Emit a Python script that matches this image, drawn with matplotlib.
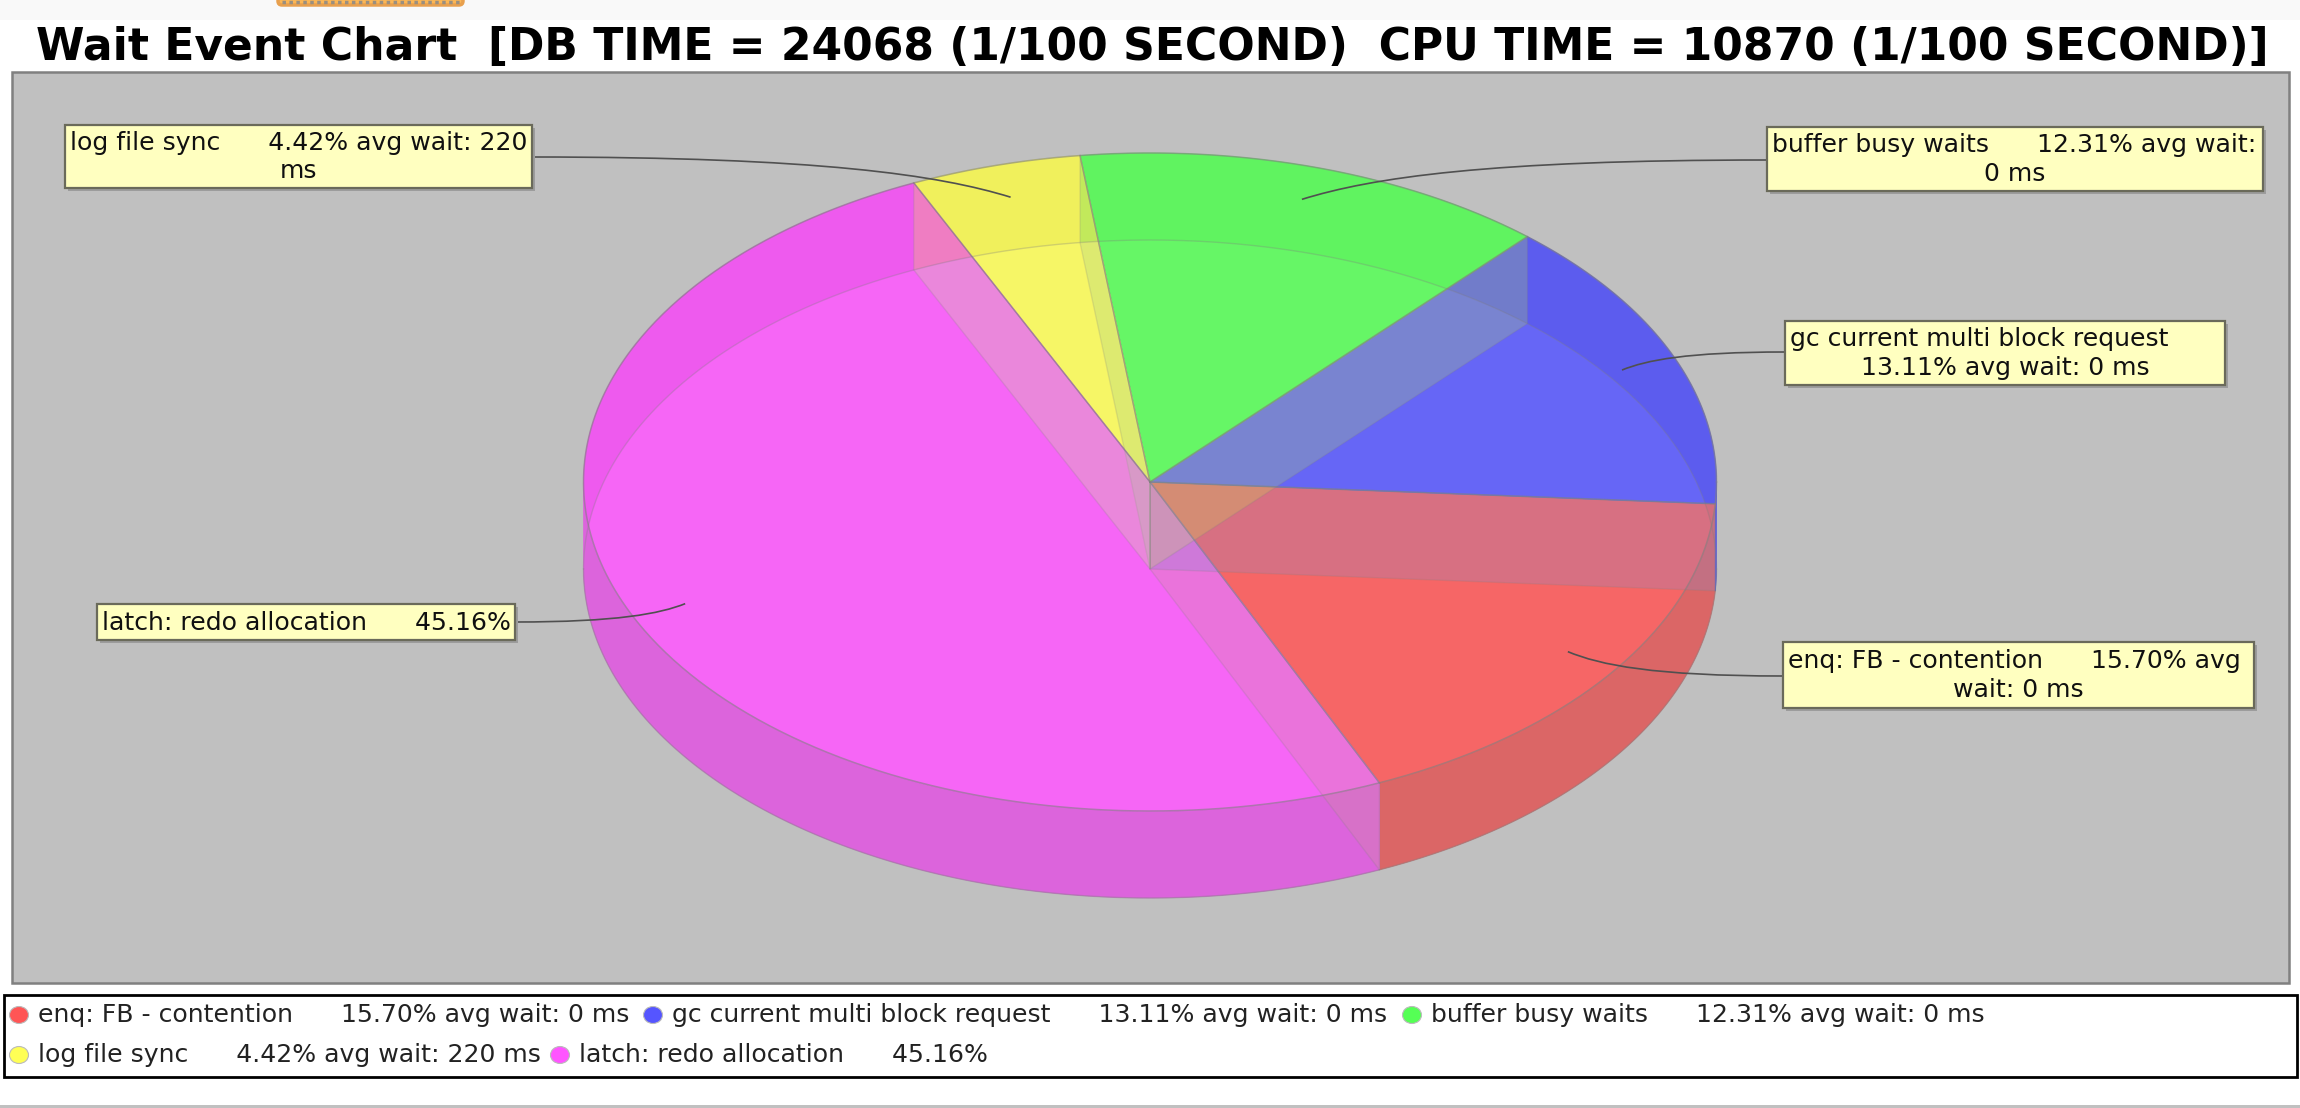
import numpy as np
import matplotlib
matplotlib.use("Agg")
import matplotlib.pyplot as plt
from matplotlib.patches import Polygon, Rectangle, Ellipse, PathPatch, FancyBboxPatch
from matplotlib.path import Path

# ---- wait event data ----
events = ["enq: FB - contention", "gc current multi block request", "buffer busy waits",
          "log file sync", "latch: redo allocation"]
percents = [15.70, 13.11, 12.31, 4.42, 45.16]
wait_notes = ["avg wait: 0 ms", "avg wait: 0 ms", "avg wait: 0 ms", "avg wait: 220 ms", ""]
title = "Wait Event Chart  [DB TIME = 24068 (1/100 SECOND)  CPU TIME = 10870 (1/100 SECOND)]"
callout_lines = [
    ["enq: FB - contention      15.70% avg", "wait: 0 ms"],
    ["gc current multi block request", "13.11% avg wait: 0 ms"],
    ["buffer busy waits      12.31% avg wait:", "0 ms"],
    ["log file sync      4.42% avg wait: 220", "ms"],
    ["latch: redo allocation      45.16%"],
]

# ---- palette ----
base = [(255, 85, 85), (85, 85, 255), (85, 255, 85), (255, 255, 85), (255, 85, 255)]
top_inner = [(246, 102, 102), (102, 102, 246), (102, 246, 102), (246, 246, 102), (246, 102, 246)]
top_band = [(236, 98, 98), (92, 92, 238), (96, 243, 96), (240, 240, 92), (238, 90, 238)]
side_col = [(219, 102, 102), (90, 90, 220), (90, 220, 90), (220, 220, 90), (220, 100, 220)]
# tint of each radial wall: inside the lower disc, then in the band behind it
wall_tint = [((202, 154, 142), .25), ((126, 142, 214), .25), ((202, 255, 60), .20),
             ((150, 202, 142), .25), ((202, 234, 142), .25)]
wall_band_tint = [((202, 154, 142), .25), ((126, 142, 214), .25), ((202, 255, 60), .20),
                  ((60, 215, 90), .25), ((245, 250, 40), .22)]


def rgb(c):
    return tuple(v / 255 for v in c)


W, H = 2300, 1108
fig = plt.figure(figsize=(W / 100, H / 100), dpi=100, facecolor="white")
ax = fig.add_axes([0, 0, 1, 1])
ax.set_xlim(0, W)
ax.set_ylim(H, 0)
ax.axis("off")
plt.rcParams["font.family"] = "DejaVu Sans"
LABEL_SIZE = 18.1

# page furniture
ax.add_patch(Rectangle((0, 0), W, 20, fc="#f9f9f9", ec="none"))
ax.add_patch(FancyBboxPatch((278, -10), 185, 15, boxstyle="round,pad=0,rounding_size=4",
                            fc="#fbb655", ec="#e8a04e", lw=2.5))
ax.plot([282, 460], [1.5, 1.5], color="#9a8f80", lw=2.5, ls=(0, (1, 1)))
ax.add_patch(Rectangle((0, 1105), W, 3, fc="#c0c0c0", ec="none"))

# chart panel and title
ax.add_patch(Rectangle((11.5, 71.5), 2277, 911, fc="#c0c0c0", ec="#808080", lw=1.8))
ax.text(1152, 47.5, title, fontsize=31.7, fontweight="bold", ha="center", va="center", color="black")

# ---- pie geometry ----
cx, cy = 1150, 482
rx, ry = 566.5, 329
depth = 87
start = -3.8
sweeps = np.array(percents) / sum(percents) * 360

# the first slice runs clockwise from the start angle, the rest anticlockwise to meet it
angles = [(start - sweeps[0], start)]
a = start
for s in sweeps[1:]:
    angles.append((a, a + s))
    a += s


def rim(t, dy=0.0, r=1.0):
    t = np.radians(t)
    return np.c_[cx + r * rx * np.cos(t), cy + dy - r * ry * np.sin(t)]


def sector(t0, t1, dy=0.0):
    ts = np.linspace(t0, t1, 200)
    return np.vstack([[cx, cy + dy], rim(ts, dy)])


GREY = (0.5, 0.5, 0.5)

# curved outer side, front half only
for (t0, t1), col in zip(angles, side_col):
    for shift in (0, 360, -360):
        lo, hi = max(t0 + shift, 180), min(t1 + shift, 360)
        if lo < hi:
            ts = np.linspace(lo, hi, 200)
            pts = np.vstack([rim(ts), rim(ts[::-1], depth)])
            ax.add_patch(Polygon(pts, closed=True, fc=rgb(col), ec=rgb(col), lw=.5))
            ax.plot(*rim(ts, depth).T, color=GREY, lw=1, alpha=.4)

# top face: the part behind the lower disc is a shade darker
disc = Ellipse((cx, cy + depth), 2 * rx, 2 * ry, transform=ax.transData)
for (t0, t1), band, inner in zip(angles, top_band, top_inner):
    ax.add_patch(Polygon(sector(t0, t1), closed=True, fc=rgb(band), ec=rgb(band), lw=.6))
    p = Polygon(sector(t0, t1), closed=True, fc=rgb(inner), ec=rgb(inner), lw=.6)
    ax.add_patch(p)
    p.set_clip_path(disc)

# clip region for everything outside the lower disc: page outline with the disc cut out
disc_outline = rim(np.linspace(0, 360, 361), depth)
outside = Path.make_compound_path(
    Path([(0, 0), (W, 0), (W, H), (0, H), (0, 0)], closed=True),
    Path(np.vstack([disc_outline, disc_outline[0]]), closed=True),
)

# radial walls, seen through the top face
wall_angles = [angles[0][0], angles[0][1], angles[1][1], angles[2][1], angles[3][1]]
for ang, (tint, alpha), (tint2, alpha2) in zip(wall_angles, wall_tint, wall_band_tint):
    p0 = rim(np.array([ang]))[0]
    quad = [(cx, cy), p0, (p0[0], p0[1] + depth), (cx, cy + depth)]
    inside_part = Polygon(quad, closed=True, fc=rgb(tint) + (alpha,), ec="none")
    ax.add_patch(inside_part)
    inside_part.set_clip_path(disc)
    band_part = Polygon(quad, closed=True, fc=rgb(tint2) + (alpha2,), ec="none")
    ax.add_patch(band_part)
    band_part.set_clip_path(outside, ax.transData)
    ax.add_patch(Polygon(quad, closed=True, fc="none", ec=GREY + (.2,), lw=1))

# back rim of the lower disc, seen through the top face
ax.plot(*rim(np.linspace(0, 180, 300), depth).T, color=GREY, lw=1, alpha=.3)

# slice boundaries and outer edge of the top face
for ang in wall_angles:
    p0 = rim(np.array([ang]))[0]
    ax.plot([cx, p0[0]], [cy, p0[1]], color=GREY, lw=1.1, alpha=.6)
ax.plot(*rim(np.linspace(0, 360, 720)).T, color=GREY, lw=1.1, alpha=.6)

# ---- callouts ----
# box: left, top, right, bottom, link side x, link y
boxes = [
    (1783, 642, 2254, 708, 1783, 676),
    (1785, 321, 2225, 385, 1785, 352),
    (1767, 127, 2263, 191, 1767, 160),
    (64.5, 125, 532, 188, 532, 157),
    (97, 604, 515, 640, 515, 622),
]
for (t0, t1), lines, (l, t, r, b, lx, ly) in zip(angles, callout_lines, boxes):
    mid = (t0 + t1) / 2
    ax_, ay_ = rim(np.array([mid]), r=.9)[0]
    dx, dy = ax_ - lx, ay_ - ly
    verts = [(lx, ly), (lx + .6 * dx, ly), (ax_ - .15 * dx, ly + .45 * dy), (ax_, ay_)]
    ax.add_patch(PathPatch(Path(verts, [Path.MOVETO, Path.CURVE4, Path.CURVE4, Path.CURVE4]),
                           fc="none", ec="#505050", lw=1.2, zorder=5))
    ax.add_patch(Rectangle((l + 3, t + 3), r - l, b - t, fc="#9c9c9c", ec="none", zorder=6))
    ax.add_patch(Rectangle((l, t), r - l, b - t, fc="#ffffc0", ec="#6a6a5a", lw=1.6, zorder=7))
    n = len(lines)
    for i, line in enumerate(lines):
        yy = (t + b) / 2 + (i - (n - 1) / 2) * 28.5 + .5
        if i == 0:
            ax.text(l + 5, yy, line, fontsize=LABEL_SIZE, ha="left", va="center",
                    color="#101010", zorder=8)
        else:
            ax.text((l + r) / 2, yy, line, fontsize=LABEL_SIZE, ha="center", va="center",
                    color="#101010", zorder=8)

# ---- legend ----
ax.add_patch(Rectangle((3.5, 995), 2293, 82, fc="white", ec="black", lw=2))
legend_x = [19, 653, 1412, 19, 560]
legend_y = [1015, 1015, 1015, 1055, 1055]
for name, pct, note, col, x, y in zip(events, percents, wait_notes, base, legend_x, legend_y):
    ax.add_patch(Ellipse((x, y), 19, 17, fc=rgb(col), ec="#bbbbbb", lw=.8))
    txt = f"{name}      {pct:.2f}%" + (f" {note}" if note else "")
    ax.text(x + 19, y, txt, fontsize=LABEL_SIZE, ha="left", va="center", color="#222222")

fig.savefig("out.png", dpi=100, facecolor="white")
